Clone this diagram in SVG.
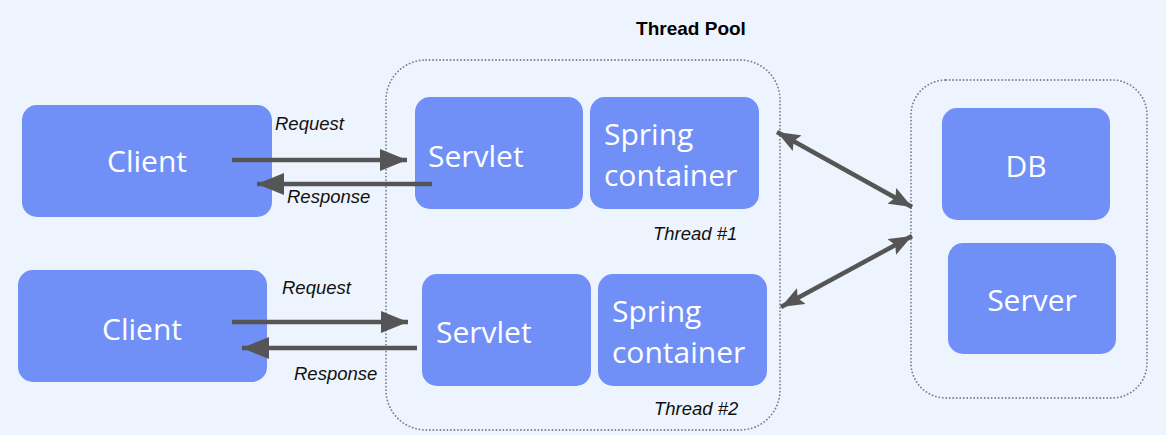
<svg xmlns="http://www.w3.org/2000/svg" width="1166" height="435" viewBox="0 0 1166 435">
<defs>
<style>
.bg{fill:#eef4fd}
.box{fill:#7190f7}
.pool{fill:none;stroke:#7d8088;stroke-width:1.8;stroke-dasharray:0.1 3.4;stroke-linecap:round}
.t{font-family:"Open Sans","Noto Sans",sans-serif;font-size:30px;fill:#ffffff}
.lbl{font-family:"Liberation Sans",Arial,sans-serif;font-size:18.5px;font-style:italic;fill:#111}
.title{font-family:"Liberation Sans",Arial,sans-serif;font-size:19px;font-weight:bold;fill:#000}
.ln{stroke:#555;stroke-width:4.5;fill:none}
</style>
<marker id="ah" markerUnits="userSpaceOnUse" markerWidth="28" markerHeight="22" refX="27" refY="11" orient="auto">
<path d="M0,0 L27,11 L0,22 Z" fill="#555"/>
</marker>
<marker id="ah2" markerUnits="userSpaceOnUse" markerWidth="24" markerHeight="18" refX="23" refY="9" orient="auto-start-reverse">
<path d="M0,0 L23,9 L0,18 L4,9 Z" fill="#555"/>
</marker>
</defs>
<rect class="bg" x="0" y="0" width="1166" height="435"/>
<text class="title" x="691" y="35" text-anchor="middle">Thread Pool</text>
<g id="thread-pool">
<rect class="pool" x="386" y="60" width="394" height="370" rx="40"/>
</g>
<g id="backend">
<rect class="pool" x="911" y="80" width="236" height="318" rx="35"/>
</g>
<g id="client1">
<rect class="box" x="22" y="105" width="250" height="112" rx="15"/>
<text class="t" x="147" y="172" text-anchor="middle">Client</text>
</g>
<g id="servlet1">
<rect class="box" x="415" y="97" width="168" height="112" rx="15"/>
<text class="t" x="428" y="167">Servlet</text>
</g>
<g id="spring1">
<rect class="box" x="590" y="97" width="169" height="112" rx="15"/>
<text class="t" x="604" y="145">Spring</text>
<text class="t" x="604" y="186">container</text>
</g>
<text class="lbl" x="653" y="240">Thread #1</text>
<g id="client2">
<rect class="box" x="18" y="270" width="249" height="112" rx="15"/>
<text class="t" x="142" y="340" text-anchor="middle">Client</text>
</g>
<g id="servlet2">
<rect class="box" x="422" y="274" width="169" height="112" rx="15"/>
<text class="t" x="436" y="343">Servlet</text>
</g>
<g id="spring2">
<rect class="box" x="598" y="274" width="169" height="112" rx="15"/>
<text class="t" x="612" y="322">Spring</text>
<text class="t" x="612" y="363">container</text>
</g>
<text class="lbl" x="654" y="415">Thread #2</text>
<g id="db">
<rect class="box" x="942" y="108" width="168" height="112" rx="15"/>
<text class="t" x="1026" y="177" text-anchor="middle">DB</text>
</g>
<g id="server">
<rect class="box" x="948" y="243" width="168" height="111" rx="15"/>
<text class="t" x="1032" y="311" text-anchor="middle">Server</text>
</g>
<g id="connectors">
<line class="ln" x1="232" y1="160" x2="407" y2="160" marker-end="url(#ah)"/>
<line class="ln" x1="432" y1="184" x2="257" y2="184" marker-end="url(#ah)"/>
<line class="ln" x1="232" y1="322" x2="408" y2="322" marker-end="url(#ah)"/>
<line class="ln" x1="417" y1="348" x2="242" y2="348" marker-end="url(#ah)"/>
<line class="ln" x1="777" y1="132" x2="912" y2="207" marker-start="url(#ah2)" marker-end="url(#ah2)"/>
<line class="ln" x1="781" y1="307" x2="912" y2="236" marker-start="url(#ah2)" marker-end="url(#ah2)"/>
<text class="lbl" x="275" y="130">Request</text>
<text class="lbl" x="287" y="203">Response</text>
<text class="lbl" x="282" y="294">Request</text>
<text class="lbl" x="294" y="380">Response</text>
</g>
</svg>
